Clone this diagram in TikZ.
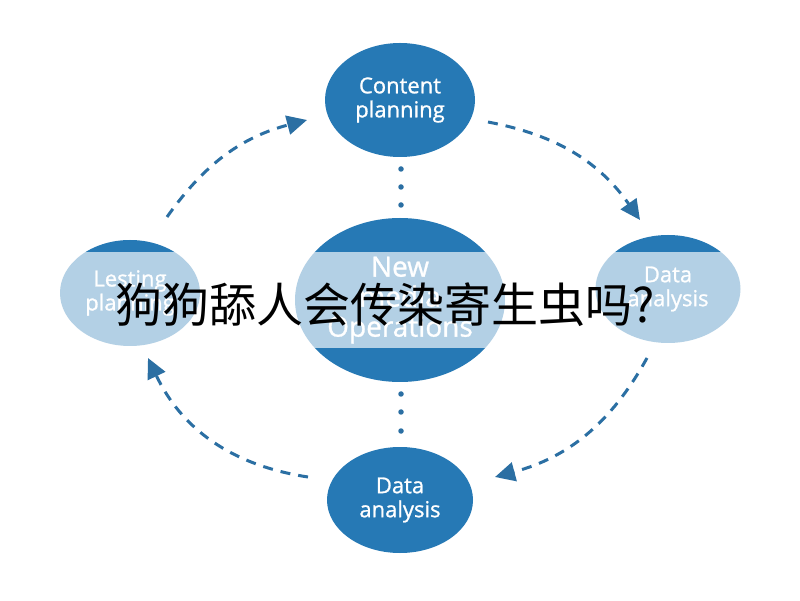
\documentclass[tikz,border=0pt]{standalone}
\usepackage{fontspec}
\setmainfont{Open Sans}
\newfontfamily\bubblefont{Open Sans}[FakeBold=1.0]
\newfontfamily\cjk{Noto Sans CJK SC}
\usetikzlibrary{shapes.geometric,arrows.meta}
\definecolor{mainblue}{HTML}{2679B5}
\definecolor{dashblue}{HTML}{2B6FA3}
\begin{document}
\begin{tikzpicture}[x=1pt,y=1pt,
  bubble/.style={ellipse,fill=mainblue,inner sep=0pt,text=white,align=center,font=\bubblefont\fontsize{22}{24}\selectfont},
  flow/.style={draw=dashblue,line width=3pt,dash pattern=on 10pt off 8pt,-{Triangle[length=20pt,width=19pt]}},
  dotmark/.style={circle,fill=dashblue,inner sep=0pt,minimum size=5.5pt}]
\useasboundingbox[fill=white] (0,0) rectangle (800,600);
% nodes
\node[bubble,minimum width=150pt,minimum height=114pt] (top) at (400,500) {Content\\planning};
\node[bubble,minimum width=210pt,minimum height=164pt,font=\bubblefont\fontsize{28}{30}\selectfont] (center) at (400,300) {New\\media\\Operations};
\node[bubble,minimum width=140pt,minimum height=106pt] (left) at (130,307) {Lesting\\planning};
\node[bubble,minimum width=145pt,minimum height=108pt] (right) at (668,311) {Data\\analysis};
\node[bubble,minimum width=146pt,minimum height=106pt] (bottom) at (400,100) {Data\\analysis};
% dots
\node[dotmark] (d1) at (401,431) {};
\node[dotmark] (d2) at (401,413) {};
\node[dotmark] (d3) at (401,395) {};
\node[dotmark] (d4) at (401,206) {};
\node[dotmark] (d5) at (401,188) {};
\node[dotmark] (d6) at (401,169) {};
% arrows
\coordinate (tla) at (167,383);
\coordinate (tlb) at (307,480);
\coordinate (tra) at (488,478);
\coordinate (trb) at (640,380);
\coordinate (bra) at (647,242);
\coordinate (brb) at (495,123);
\coordinate (bla) at (308,123);
\coordinate (blb) at (148,242);
\draw[flow] (tla) to[bend left=20] (tlb);
\draw[flow] (tra) to[bend left=22] (trb);
\draw[flow] (bra) to[bend left=23] (brb);
\draw[flow] (bla) to[bend left=28] (blb);
% band
\fill[white,opacity=0.65] (0,252) rectangle (800,348);
\node[font=\cjk\fontsize{47}{50}\selectfont,text=black,inner sep=0pt] (title) at (385,295) {狗狗舔人会传染寄生虫吗?};
\end{tikzpicture}
\end{document}
